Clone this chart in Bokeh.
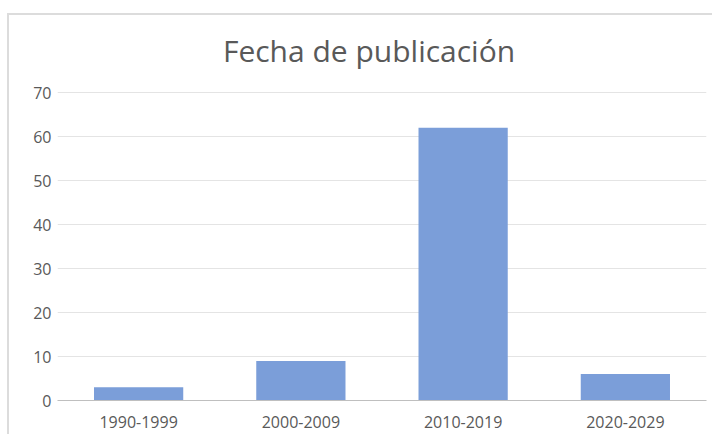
from bokeh.plotting import figure
from bokeh.models import FactorRange, Range1d, FixedTicker, Label
from bokeh.embed import file_html
from bokeh.resources import INLINE

categories = ["1990-1999", "2000-2009", "2010-2019", "2020-2029"]
values = [3, 9, 62, 6]
y_ticks = [0, 10, 20, 30, 40, 50, 60, 70]
title_text = "Fecha de publicación"

p = figure(x_range=FactorRange(*categories, range_padding=0), y_range=Range1d(0, 84.1),
           width=705, height=421, output_backend="svg", toolbar_location=None,
           min_border_left=48, min_border_right=8, min_border_top=15, min_border_bottom=36)
p.margin = (13, 0, 0, 7)
p.styles = {"border-top": "2px solid #dcdcdc", "border-left": "2px solid #dcdcdc"}

p.vbar(x=categories, top=values, width=0.55, color="#7b9ed9", line_color=None)

p.add_layout(Label(x=1.92, y=79.5, text=title_text, text_align="center", text_baseline="middle",
                   text_font="Open Sans", text_font_size="30px", text_color="#595959"))

p.outline_line_color = None
p.background_fill_color = "white"
p.border_fill_color = "white"
p.xgrid.grid_line_color = None
p.ygrid.grid_line_color = "#e4e4e4"
p.ygrid.grid_line_width = 1
p.yaxis.ticker = FixedTicker(ticks=y_ticks)
p.yaxis.axis_line_color = None
p.yaxis.major_tick_line_color = None
p.yaxis.minor_tick_line_color = None
p.yaxis.major_tick_out = 0
p.yaxis.major_label_standoff = 6
p.xaxis.axis_line_color = "#bfbfbf"
p.xaxis.axis_line_width = 1
p.xaxis.major_tick_line_color = None
p.xaxis.minor_tick_line_color = None
p.xaxis.major_tick_out = 0
p.xaxis.major_label_standoff = 15
for ax in (p.xaxis, p.yaxis):
    ax.major_label_text_font = "Open Sans"
    ax.major_label_text_font_size = "16px"
    ax.major_label_text_color = "#595959"

open("out.html", "w").write(file_html(p, INLINE))
